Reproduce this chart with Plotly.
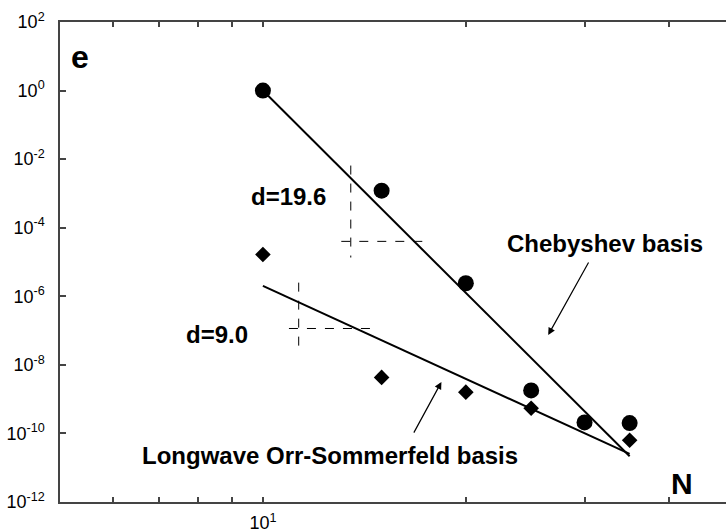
import numpy as np
import plotly.graph_objects as go

# Convergence of the error e with truncation N
N_cheb = [10, 15, 20, 25, 30, 35]
e_cheb = [1.0, 1.2e-3, 2.4e-6, 1.8e-9, 2.1e-10, 2.0e-10]

N_ow = [10, 15, 20, 25, 35]
e_ow = [1.66e-5, 4.3e-9, 1.6e-9, 5.4e-10, 6.3e-11]

# Power-law fits e = e0 * (N/10)^(-d)
d_cheb, e0_cheb = 19.6, 1.0
d_ow, e0_ow = 9.0, 2.0e-6
N_fit = [10, 35]

# Slope triangles (dashed guides)
cheb_vert_N, cheb_vert_e = [13.5, 13.5], [6.5e-3, 1.35e-5]
cheb_horz_N, cheb_horz_e = [13.07, 17.3], [4.0e-5, 4.0e-5]
ow_vert_N, ow_vert_e = [11.3, 11.3], [2.5e-6, 2.3e-8]
ow_horz_N, ow_horz_e = [10.93, 14.58], [1.15e-7, 1.15e-7]

x_tickvals = [6, 7, 8, 9, 10, 20, 30, 40]
x_ticktext = ["", "", "", "", "10<sup>1</sup>", "", "", ""]
y_exponents = [2, 0, -2, -4, -6, -8, -10, -12]

FONT = "Liberation Sans, Arial, Helvetica, sans-serif"
AXIS = "#444444"


def fit(n, e0, d):
    n = np.asarray(n, dtype=float)
    return e0 * (n / 10.0) ** (-d)


fig = go.Figure()

fig.add_trace(go.Scatter(x=N_fit, y=fit(N_fit, e0_cheb, d_cheb), mode="lines",
                         line=dict(color="black", width=2), showlegend=False))
fig.add_trace(go.Scatter(x=N_fit, y=fit(N_fit, e0_ow, d_ow), mode="lines",
                         line=dict(color="black", width=2), showlegend=False))

for xs, ys in [(cheb_vert_N, cheb_vert_e), (cheb_horz_N, cheb_horz_e),
               (ow_vert_N, ow_vert_e), (ow_horz_N, ow_horz_e)]:
    fig.add_trace(go.Scatter(x=xs, y=ys, mode="lines",
                             line=dict(color="black", width=1, dash="dash"),
                             showlegend=False))

fig.add_trace(go.Scatter(x=N_cheb, y=e_cheb, mode="markers",
                         marker=dict(symbol="circle", size=16, color="black"),
                         showlegend=False))
fig.add_trace(go.Scatter(x=N_ow, y=e_ow, mode="markers",
                         marker=dict(symbol="diamond", size=12, color="black"),
                         showlegend=False))

lx = np.log10
texts = [
    dict(x=lx(5.35), y=0.98, text="e", size=32, xanchor="center"),
    dict(x=lx(41.9), y=-11.47, text="N", size=30, xanchor="center"),
    dict(x=lx(10.9), y=-3.10, text="d=19.6", size=24, xanchor="center"),
    dict(x=lx(8.55), y=-7.10, text="d=9.0", size=24, xanchor="center"),
    dict(x=lx(22.9), y=-4.47, text="Chebyshev basis", size=24, xanchor="left"),
    dict(x=lx(6.57), y=-10.63, text="Longwave Orr-Sommerfeld basis", size=24, xanchor="left"),
]
annotations = []
for t in texts:
    annotations.append(dict(x=t["x"], y=t["y"], xref="x", yref="y", text="<b>%s</b>" % t["text"],
                            showarrow=False, xanchor=t["xanchor"], yanchor="middle",
                            font=dict(family=FONT, size=t["size"], color="black")))

# Pointer arrows to the fitted lines
for (tx, ty), (hx, hy) in [((30.5, -4.97), (26.5, -7.13)), ((16.7, -10.02), (18.4, -8.50))]:
    annotations.append(dict(x=lx(hx), y=hy, ax=lx(tx), ay=ty, xref="x", yref="y",
                            axref="x", ayref="y", text="", showarrow=True,
                            arrowhead=2, arrowsize=1.2, arrowwidth=1.2, arrowcolor="black"))

fig.update_layout(
    width=726, height=532,
    margin=dict(l=60, r=0, t=22, b=30),
    paper_bgcolor="white", plot_bgcolor="white",
    font=dict(family=FONT, size=18, color="black"),
    annotations=annotations,
)

fig.update_xaxes(type="log", range=[lx(5), 1.687], tickvals=x_tickvals, ticktext=x_ticktext,
                 ticks="inside", ticklen=5, tickwidth=1.5, tickcolor=AXIS,
                 showline=True, linecolor=AXIS, linewidth=1.5, mirror="ticks",
                 showgrid=False, zeroline=False, ticklabelstandoff=4,
                 tickfont=dict(family=FONT, size=18, color="black"))
fig.update_yaxes(type="log", range=[-12, 2], tickvals=[10.0 ** k for k in y_exponents],
                 ticktext=["10<sup>%d</sup>" % k for k in y_exponents],
                 ticks="inside", ticklen=6, tickwidth=1.5, tickcolor=AXIS,
                 showline=True, linecolor=AXIS, linewidth=1.5,
                 showgrid=False, zeroline=False, ticklabelstandoff=10,
                 tickfont=dict(family=FONT, size=18, color="black"))

fig.write_html("out.html")
